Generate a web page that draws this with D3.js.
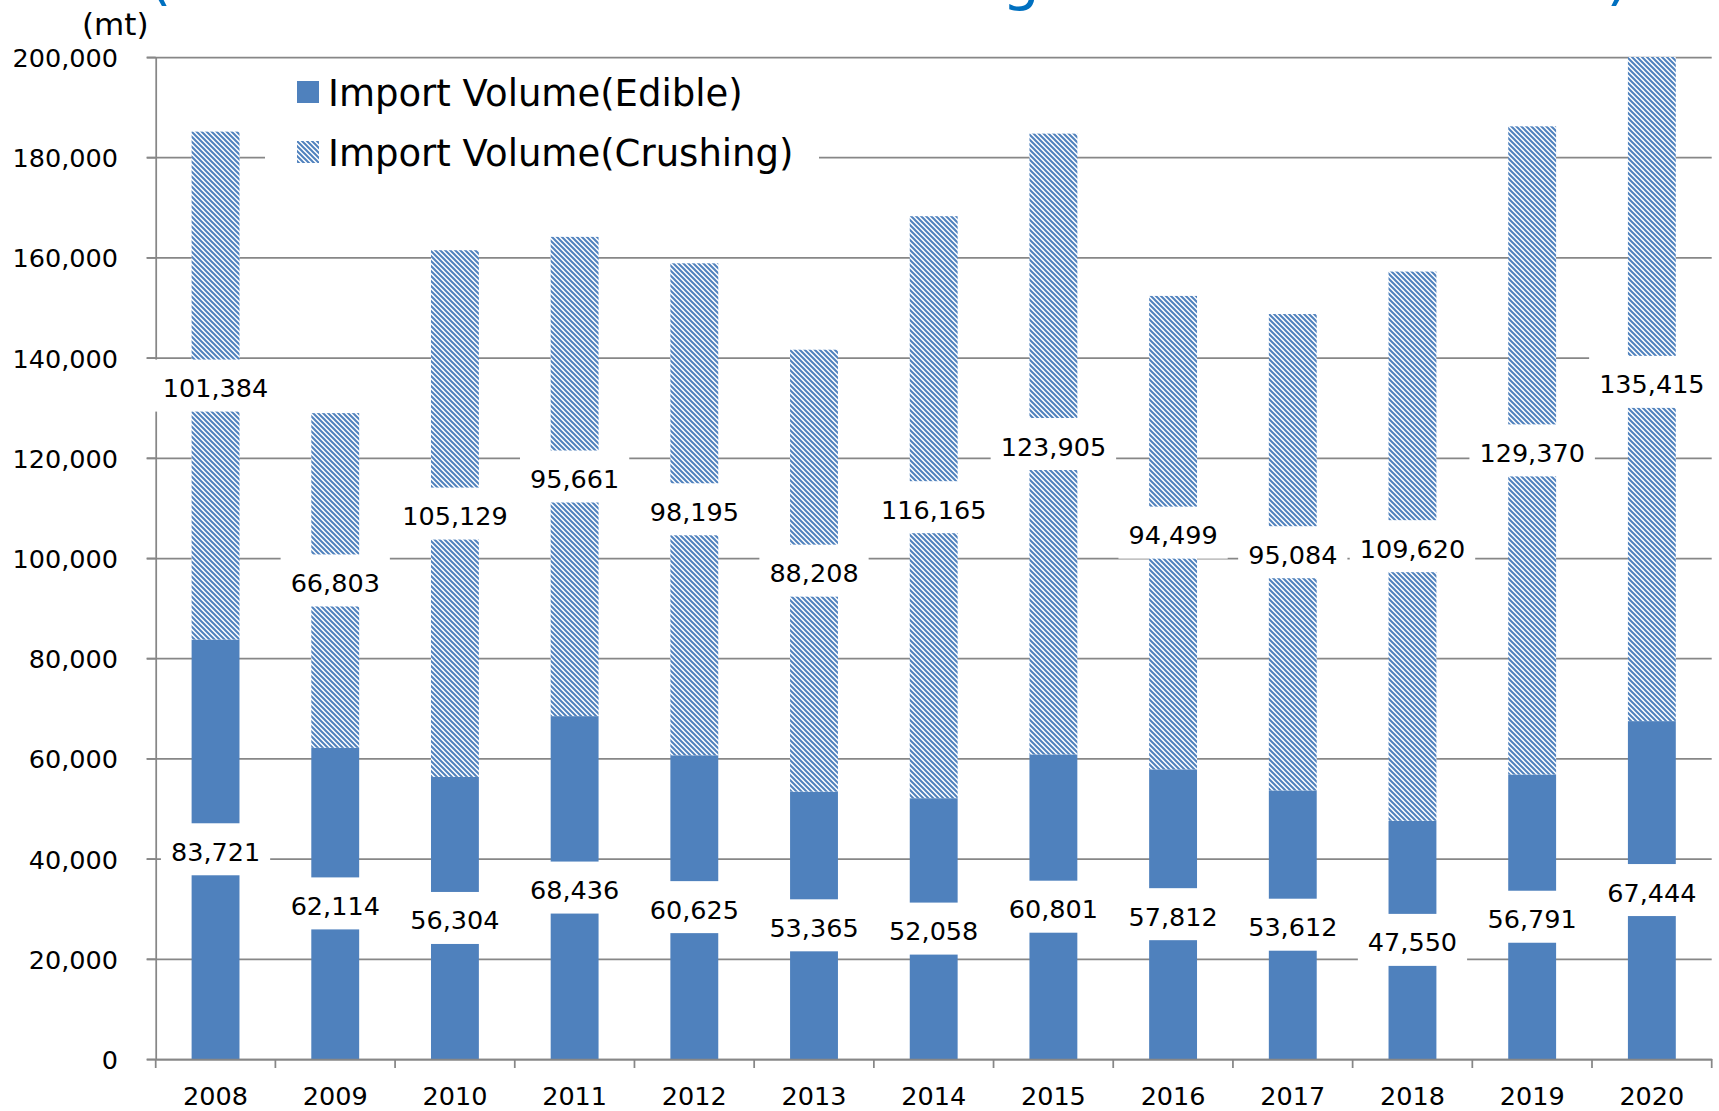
<!DOCTYPE html>
<html>
<head>
<meta charset="utf-8">
<script src="https://cdn.jsdelivr.net/npm/d3@7"></script>
<style>
body { margin:0; background:#fff; }
svg text { font-family:"DejaVu Sans", Verdana, sans-serif; }
</style>
</head>
<body>
<script>
// data (mt)
var years = ["2008","2009","2010","2011","2012","2013","2014","2015","2016","2017","2018","2019","2020"];
var edible = [83721,62114,56304,68436,60625,53365,52058,60801,57812,53612,47550,56791,67444];
var crushing = [101384,66803,105129,95661,98195,88208,116165,123905,94499,95084,109620,129370,135415];
var seriesNames = ["Import Volume(Edible)","Import Volume(Crushing)"];
var yTicks = [0,20000,40000,60000,80000,100000,120000,140000,160000,180000,200000];
var unitLabel = "(mt)";
// title is cut off by the top edge, only the descenders show
var titleParts = ["(Edible and Crushin", "g Use Trend)"];

var w = 1719, h = 1111;
var mLeft = 155.7, mRight = 1711.7, mTop = 57, mBottom = 1059;
var blue = "#4f81bd", grid = "#878787";
var fmt = d3.format(",");

var svg = d3.select("body").append("svg")
    .attr("width", w)
    .attr("height", h);

var defs = svg.append("defs");
var pat = defs.append("pattern")
    .attr("id", "hatch")
    .attr("patternUnits", "userSpaceOnUse")
    .attr("width", 5)
    .attr("height", 5);
pat.append("rect").attr("width", 5).attr("height", 5).attr("fill", "#fff");
pat.append("path")
    .attr("d", "M0,0L5,5M-1,4L1,6M4,-1L6,1")
    .attr("stroke", blue)
    .attr("stroke-width", 2);

defs.append("clipPath").attr("id", "plot")
  .append("rect")
    .attr("x", mLeft).attr("y", mTop)
    .attr("width", mRight - mLeft).attr("height", mBottom - mTop);

var x = d3.scaleBand()
    .domain(years)
    .range([mLeft, mRight])
    .paddingInner(0.6)
    .paddingOuter(0.3);

var y = d3.scaleLinear()
    .domain([0, 200000])
    .range([mBottom, mTop]);

// title
var title = svg.append("text")
    .attr("y", -2)
    .style("font-size", "60px")
    .attr("fill", "#0070c0");
title.append("tspan")
    .attr("x", 148)
    .attr("textLength", 855)
    .attr("lengthAdjust", "spacing")
    .text(titleParts[0]);
title.append("tspan")
    .attr("x", 1002)
    .attr("textLength", 628)
    .attr("lengthAdjust", "spacing")
    .text(titleParts[1]);

// gridlines
var gridG = svg.append("g")
    .attr("transform", "translate(" + (mLeft - 9) + ",0)")
    .call(d3.axisRight(y).tickValues(yTicks).tickSize(mRight - mLeft + 9).tickFormat(""));
gridG.select(".domain").remove();
gridG.selectAll("line").attr("stroke", grid).attr("stroke-width", 1.75);

// y axis
var yAxis = svg.append("g")
    .attr("transform", "translate(" + mLeft + ",0)")
    .call(d3.axisLeft(y).tickValues(yTicks).tickSizeInner(9).tickSizeOuter(0).tickPadding(28.7).tickFormat(fmt));
yAxis.select(".domain").attr("stroke", grid).attr("stroke-width", 1.75);
yAxis.selectAll("line").attr("stroke", grid).attr("stroke-width", 1.75);
yAxis.selectAll("text")
    .attr("dy", "0.37em")
    .attr("fill", "#000")
    .style("font-size", "25.5px")
    .style("font-family", "'DejaVu Sans', Verdana, sans-serif");

svg.append("text")
    .attr("x", 82)
    .attr("y", 35)
    .style("font-size", "31px")
    .text(unitLabel);

// bars
var rows = years.map(function(d, i) {
  return {year: d, e: edible[i], c: crushing[i]};
});

var bars = svg.append("g").attr("clip-path", "url(#plot)");

bars.selectAll(".edible")
    .data(rows)
    .enter()
    .append("rect")
    .attr("class", "edible")
    .attr("x", (d) => x(d.year))
    .attr("y", (d) => y(d.e))
    .attr("width", x.bandwidth())
    .attr("height", (d) => y(0) - y(d.e))
    .attr("fill", blue);

bars.selectAll(".crush")
    .data(rows)
    .enter()
    .append("rect")
    .attr("class", "crush")
    .attr("x", (d) => x(d.year))
    .attr("y", (d) => y(d.e + d.c))
    .attr("width", x.bandwidth())
    .attr("height", (d) => y(d.e) - y(d.e + d.c))
    .attr("fill", "url(#hatch)");

// x axis
var xAxis = svg.append("g")
    .attr("transform", "translate(0," + mBottom + ")")
    .call(d3.axisBottom(x).tickSize(0).tickPadding(27.7));
xAxis.select(".domain").attr("stroke", grid).attr("stroke-width", 1.75);
xAxis.selectAll("text")
    .attr("fill", "#000")
    .style("font-size", "25.5px")
    .style("font-family", "'DejaVu Sans', Verdana, sans-serif");

var gap = (x.step() - x.bandwidth()) / 2;
var bounds = years.map((d) => x(d) - gap).concat([x(years[years.length - 1]) + x.bandwidth() + gap]);
xAxis.selectAll(".sep")
    .data(bounds)
    .enter()
    .append("line")
    .attr("class", "sep")
    .attr("x1", (d) => d).attr("x2", (d) => d)
    .attr("y1", 0).attr("y2", 9)
    .attr("stroke", grid)
    .attr("stroke-width", 1.75);

// data labels with white boxes
var labels = [];
rows.forEach(function(d) {
  labels.push({year: d.year, v: d.e, mid: d.e / 2});
  labels.push({year: d.year, v: d.c, mid: d.e + d.c / 2});
});

var lab = svg.selectAll(".lab")
    .data(labels)
    .enter()
    .append("g")
    .attr("class", "lab")
    .attr("transform", (d) => "translate(" + (x(d.year) + x.bandwidth() / 2) + "," + y(d.mid) + ")");

lab.append("rect").attr("fill", "#fff");
lab.append("text")
    .attr("text-anchor", "middle")
    .attr("y", 11.5)
    .style("font-size", "25.5px")
    .text((d) => fmt(d.v));

lab.each(function() {
  var g = d3.select(this);
  var tw = g.select("text").node().getComputedTextLength();
  g.select("rect")
    .attr("x", -tw / 2 - 10)
    .attr("y", -26)
    .attr("width", tw + 20)
    .attr("height", 52);
});

// legend
var leg = svg.append("g");
leg.append("rect")
    .attr("x", 265).attr("y", 62)
    .attr("width", 554).attr("height", 116)
    .attr("fill", "#fff");

var item = leg.selectAll(".item")
    .data(seriesNames)
    .enter()
    .append("g")
    .attr("class", "item")
    .attr("transform", (d, i) => "translate(297," + (81 + i * 60) + ")");

item.append("rect")
    .attr("width", 22)
    .attr("height", 22)
    .attr("fill", (d, i) => i == 0 ? blue : "url(#hatch)");

item.append("text")
    .attr("x", 31)
    .attr("y", 25)
    .style("font-size", "37px")
    .text((d) => d);
</script>
</body>
</html>
